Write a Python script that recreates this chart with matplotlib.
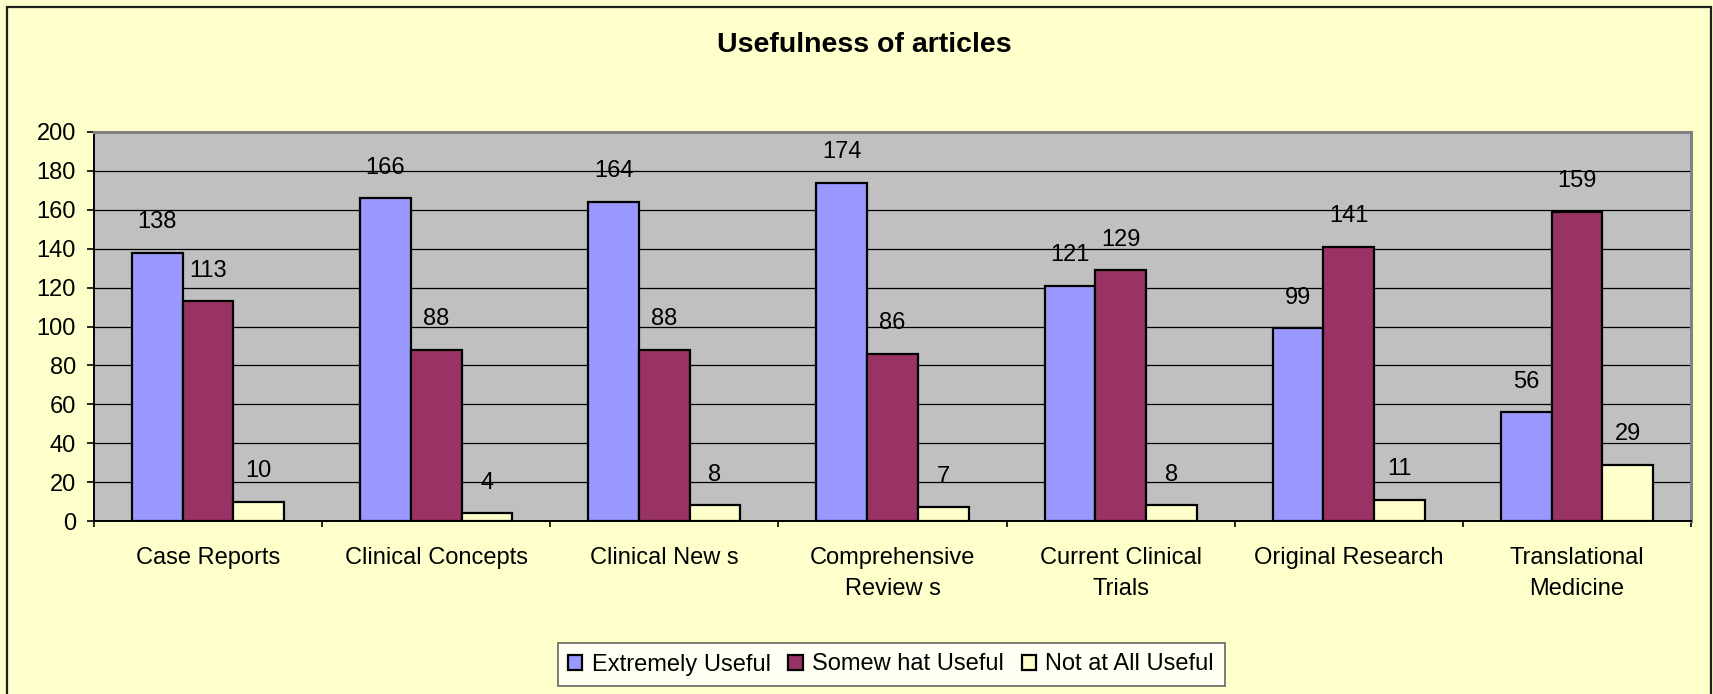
import numpy as np
import matplotlib
matplotlib.use("Agg")
import matplotlib.pyplot as plt
from matplotlib.patches import Rectangle

plt.rcParams['font.family'] = ['Liberation Sans', 'DejaVu Sans']

categories = ["Case Reports", "Clinical Concepts", "Clinical New s", "Comprehensive\nReview s",
              "Current Clinical\nTrials", "Original Research", "Translational\nMedicine"]
extremely = [138, 166, 164, 174, 121, 99, 56]
somewhat = [113, 88, 88, 86, 129, 141, 159]
not_at_all = [10, 4, 8, 7, 8, 11, 29]
series_names = ["Extremely Useful", "Somew hat Useful", "Not at All Useful"]
colors = ["#9999FF", "#993366", "#FFFFCC"]

fig = plt.figure(figsize=(17.13, 6.94), dpi=100)
fig.patch.set_facecolor("#FFFFCC")
# outer chart border (bottom edge runs off the image)
fig.patches.append(Rectangle((7/1713, -0.05), 1704/1713, 1.05 - 7/694, transform=fig.transFigure,
                             fill=False, edgecolor="#202020", linewidth=1.6, zorder=0))

ax = fig.add_axes([94/1713, 173/694, 1597/1713, 389/694])
ax.set_facecolor("#C0C0C0")

x = np.arange(len(categories))
w = 1 / 4.5
for i, (vals, name, c) in enumerate(zip([extremely, somewhat, not_at_all], series_names, colors)):
    pos = x + (i - 1) * w
    ax.bar(pos, vals, w, color=c, edgecolor="black", linewidth=1.6, label=name, zorder=3)
    for px, v in zip(pos, vals):
        ax.annotate(str(v), (px, v), xytext=(0, 22), textcoords="offset points",
                    ha="center", va="center", fontsize=17)

ax.set_xlim(-0.5, len(categories) - 0.5)
ax.set_ylim(0, 200)
ax.set_yticks(range(0, 201, 20))
ax.yaxis.grid(True, color="black", linewidth=0.9, zorder=1)
ax.set_axisbelow(True)
ax.tick_params(axis="y", labelsize=17, length=5, width=1.2, pad=8)

ax.set_xticks(x)
ax.set_xticklabels(categories, fontsize=17, linespacing=1.5)
ax.tick_params(axis="x", length=0, pad=19)
ax.set_xticks(np.arange(-0.5, len(categories)), minor=True)
ax.tick_params(axis="x", which="minor", length=4.5, width=1.2)

for s in ["left", "bottom"]:
    ax.spines[s].set_color("black")
    ax.spines[s].set_linewidth(1.4)
for s in ["top", "right"]:
    ax.spines[s].set_color("#808080")
    ax.spines[s].set_linewidth(2.2)

fig.text(864/1713, 1 - 45/694, "Usefulness of articles", ha="center", va="center",
         fontsize=20.5, fontweight="bold")

leg = fig.legend(loc="center", bbox_to_anchor=(891/1713, 1 - 664.5/694), ncol=3,
                 fontsize=17, frameon=True, fancybox=False, edgecolor="#404040",
                 handlelength=0.6, handleheight=0.6, handletextpad=0.4, columnspacing=0.75,
                 borderpad=0.45, borderaxespad=0)
leg.get_frame().set_linewidth(1.2)

fig.savefig("out.png", dpi=100, facecolor=fig.get_facecolor())
